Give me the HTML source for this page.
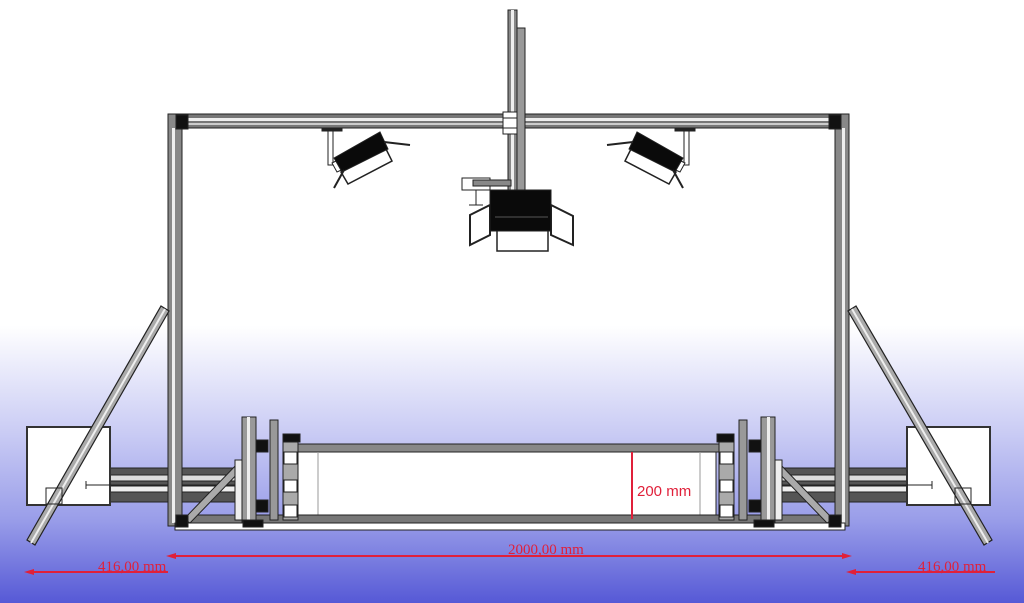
<!DOCTYPE html>
<html><head><meta charset="utf-8"><style>
html,body{margin:0;padding:0;width:1024px;height:603px;overflow:hidden}
</style></head><body>
<svg width="1024" height="603" viewBox="0 0 1024 603" xmlns="http://www.w3.org/2000/svg" font-family="Liberation Serif, serif">
<defs>
<linearGradient id="bg" x1="0" y1="0" x2="0" y2="1">
<stop offset="0" stop-color="#ffffff"/>
<stop offset="0.54" stop-color="#ffffff"/>
<stop offset="0.72" stop-color="#c9cbf4"/>
<stop offset="0.86" stop-color="#9a9ee9"/>
<stop offset="1" stop-color="#5659d6"/>
</linearGradient>
</defs>
<rect width="1024" height="603" fill="url(#bg)"/>

<g stroke="#222" stroke-width="1">
<!-- outside rails -->
<rect x="105" y="468" width="140" height="34" fill="#555"/>
<rect x="105" y="475" width="140" height="6" fill="#ddd"/>
<rect x="105" y="486" width="140" height="6" fill="#eee"/>
<rect x="775" y="468" width="140" height="34" fill="#555"/>
<rect x="775" y="475" width="140" height="6" fill="#ddd"/>
<rect x="775" y="486" width="140" height="6" fill="#eee"/>
<!-- boxes -->
<rect x="27" y="427" width="83" height="78" fill="#fff" stroke="#333" stroke-width="2"/>
<rect x="907" y="427" width="83" height="78" fill="#fff" stroke="#333" stroke-width="2"/>
<line x1="86" y1="485" x2="240" y2="485"/>
<line x1="780" y1="485" x2="932" y2="485"/>
<line x1="86" y1="481" x2="86" y2="489"/><line x1="932" y1="481" x2="932" y2="489"/>

<!-- top beam -->
<rect x="168" y="114" width="681" height="14" fill="#777"/>
<rect x="168" y="118" width="681" height="3" fill="#eee" stroke="none"/>
<rect x="168" y="123" width="681" height="2" fill="#ccc" stroke="none"/>
<!-- posts -->
<rect x="168" y="114" width="14" height="412" fill="#888"/>
<rect x="172" y="128" width="3" height="395" fill="#eee" stroke="none"/>
<rect x="835" y="114" width="14" height="412" fill="#888"/>
<rect x="842" y="128" width="3" height="395" fill="#eee" stroke="none"/>
<rect x="176" y="115" width="12" height="14" fill="#111"/>
<rect x="829" y="115" width="12" height="14" fill="#111"/>

<!-- mast -->
<rect x="508" y="10" width="9" height="185" fill="#888"/>
<rect x="511" y="10" width="3" height="185" fill="#eee" stroke="none"/>
<rect x="517" y="28" width="8" height="165" fill="#999"/>
<rect x="503" y="112" width="14" height="22" fill="#fff"/>
<line x1="503" y1="118" x2="517" y2="118"/><line x1="503" y1="128" x2="517" y2="128"/>

<!-- arm -->
<rect x="462" y="178" width="28" height="12" fill="#fff"/>
<rect x="473" y="180" width="38" height="6" fill="#888"/>
<line x1="476" y1="190" x2="476" y2="205"/><line x1="469" y1="205" x2="483" y2="205"/>
<!-- camera -->
<polygon points="470,215 490,205 490,235 470,245" fill="#fff" stroke-width="2"/>
<polygon points="551,205 573,216 573,245 551,235" fill="#fff" stroke-width="2"/>
<rect x="497" y="230" width="51" height="21" fill="#fff" stroke-width="1.5"/>
<rect x="490" y="190" width="61" height="41" fill="#0a0a0a"/>
<line x1="495" y1="217" x2="548" y2="217" stroke="#555"/>

<!-- left lamp -->
<rect x="322" y="128" width="20" height="3" fill="#222"/>
<rect x="328" y="131" width="5" height="34" fill="#fff"/>
<polygon points="332,163 342,158 346,168 337,172" fill="#fff"/>
<polygon points="341,172 386,149 392,161 348,184" fill="#fff" stroke-width="1.5"/>
<polygon points="334,158 380,132 388,149 342,172" fill="#0a0a0a"/>
<line x1="344" y1="170" x2="334" y2="188" stroke-width="2"/>
<line x1="384" y1="142" x2="410" y2="145" stroke-width="2"/>
<!-- right lamp -->
<rect x="675" y="128" width="20" height="3" fill="#222"/>
<rect x="684" y="131" width="5" height="34" fill="#fff"/>
<polygon points="685,163 675,158 671,168 680,172" fill="#fff"/>
<polygon points="676,172 631,149 625,161 669,184" fill="#fff" stroke-width="1.5"/>
<polygon points="683,158 637,132 629,149 675,172" fill="#0a0a0a"/>
<line x1="673" y1="170" x2="683" y2="188" stroke-width="2"/>
<line x1="633" y1="142" x2="607" y2="145" stroke-width="2"/>

<!-- long diagonals -->
<polygon points="161,306 169,311 35,545 27,540" fill="#aaa" stroke-width="1.2"/>
<line x1="165" y1="309" x2="31" y2="543" stroke="#eee" stroke-width="2"/>
<polygon points="856,306 848,311 984,545 992,540" fill="#aaa" stroke-width="1.2"/>
<line x1="852" y1="309" x2="988" y2="543" stroke="#eee" stroke-width="2"/>
<rect x="46" y="488" width="16" height="16" fill="none"/>
<rect x="955" y="488" width="16" height="16" fill="none"/>

<!-- bed -->
<rect x="298" y="444" width="422" height="8" fill="#888"/>
<rect x="298" y="452" width="418" height="66" fill="#fff"/>
<line x1="318" y1="452" x2="318" y2="518" stroke="#999"/>
<line x1="700" y1="452" x2="700" y2="518" stroke="#999"/>
<rect x="180" y="515" width="660" height="8" fill="#777"/>
<rect x="175" y="523" width="670" height="7" fill="#fff"/>

<!-- left inner assemblies -->
<polygon points="238,463 244,467 190,523 184,519" fill="#aaa"/>
<rect x="235" y="460" width="8" height="60" fill="#eee"/>
<rect x="242" y="417" width="14" height="106" fill="#999"/>
<rect x="247" y="417" width="3" height="106" fill="#eee" stroke="none"/>
<rect x="256" y="440" width="12" height="12" fill="#111"/>
<rect x="256" y="500" width="12" height="12" fill="#111"/>
<rect x="270" y="420" width="8" height="100" fill="#999"/>
<rect x="283" y="435" width="15" height="85" fill="#aaa"/>
<rect x="284" y="452" width="13" height="12" fill="#fff"/>
<rect x="284" y="480" width="13" height="12" fill="#fff"/>
<rect x="284" y="505" width="13" height="12" fill="#fff"/>
<rect x="283" y="434" width="17" height="8" fill="#111"/>
<rect x="176" y="515" width="12" height="12" fill="#111"/>
<rect x="243" y="520" width="20" height="7" fill="#111"/>
<!-- right inner assemblies -->
<polygon points="779,463 773,467 827,523 833,519" fill="#aaa"/>
<rect x="774" y="460" width="8" height="60" fill="#eee"/>
<rect x="761" y="417" width="14" height="106" fill="#999"/>
<rect x="767" y="417" width="3" height="106" fill="#eee" stroke="none"/>
<rect x="749" y="440" width="12" height="12" fill="#111"/>
<rect x="749" y="500" width="12" height="12" fill="#111"/>
<rect x="739" y="420" width="8" height="100" fill="#999"/>
<rect x="719" y="435" width="15" height="85" fill="#aaa"/>
<rect x="720" y="452" width="13" height="12" fill="#fff"/>
<rect x="720" y="480" width="13" height="12" fill="#fff"/>
<rect x="720" y="505" width="13" height="12" fill="#fff"/>
<rect x="717" y="434" width="17" height="8" fill="#111"/>
<rect x="829" y="515" width="12" height="12" fill="#111"/>
<rect x="754" y="520" width="20" height="7" fill="#111"/>
</g>

<!-- dimensions -->
<g stroke="#e0203a" fill="#e0203a">
<line x1="632" y1="452" x2="632" y2="519" stroke-width="2"/>
<line x1="170" y1="556" x2="848" y2="556" stroke-width="2"/>
<polygon points="166,556 176,553 176,559" stroke="none"/>
<polygon points="852,556 842,553 842,559" stroke="none"/>
<line x1="28" y1="572" x2="168" y2="572" stroke-width="2"/>
<polygon points="24,572 34,569 34,575" stroke="none"/>
<line x1="850" y1="572" x2="995" y2="572" stroke-width="2"/>
<polygon points="846,572 856,569 856,575" stroke="none"/>
</g>
<g fill="#e0203a">
<text x="637" y="496" font-family="Liberation Sans, sans-serif" font-size="15">200 mm</text>
<text x="508" y="554" font-size="15">2000,00 mm</text>
<text x="98" y="571" font-size="15">416,00 mm</text>
<text x="918" y="571" font-size="15">416,00 mm</text>
</g>
</svg>
</body></html>
